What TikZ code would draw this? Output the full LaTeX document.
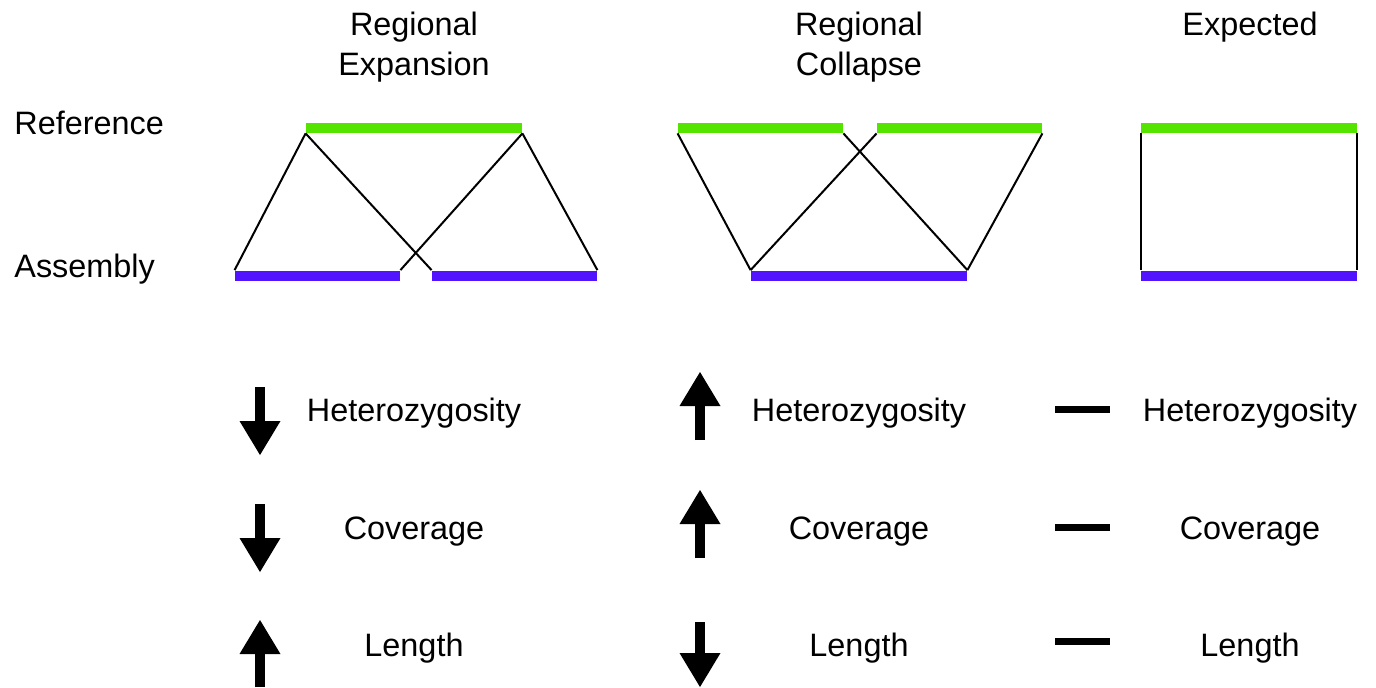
\documentclass[tikz,border=0pt]{standalone}
\usepackage{fontspec}
\setmainfont{Liberation Sans}
\usetikzlibrary{arrows.meta,positioning}
\definecolor{refgreen}{RGB}{84,228,0}
\definecolor{asmblue}{RGB}{82,20,255}

\begin{document}
\begin{tikzpicture}[
    x=0.5pt, y=-0.5pt,
    font=\fontsize{16.2}{19.8}\selectfont,
    refbar/.style={fill=refgreen, inner sep=0pt, minimum height=5pt},
    asmbar/.style={fill=asmblue, inner sep=0pt, minimum height=5pt},
    lk/.style={line width=1pt},
    hd/.style={anchor=north, align=center, inner sep=0pt},
    lbl/.style={anchor=base, inner sep=0pt},
    blk/.style={line width=5pt, -{Triangle[length=17pt, width=20.5pt, line width=0pt]}},
    nochg/.style={line width=3.5pt}
  ]
    \useasboundingbox (0,0) rectangle (1376,687);

    % headers and row labels
    \node[hd] (hdexp) at (414,12) {Regional\\Expansion};
    \node[hd] (hdcol) at (859,12) {Regional\\Collapse};
    \node[hd] (hdexd) at (1250,12) {Expected};
    \node[lbl, anchor=base west] (lblref) at (14,134) {Reference};
    \node[lbl, anchor=base west] (lblasm) at (14,277) {Assembly};

    % regional expansion
    \node[refbar, minimum width=108pt] (ref1) at (414,128) {};
    \node[asmbar, minimum width=82.5pt] (asm1a) at (317.5,275.5) {};
    \node[asmbar, minimum width=82.5pt] (asm1b) at (514.5,275.5) {};
    \draw[lk] (ref1.south west) -- (asm1a.north west);
    \draw[lk] (ref1.south west) -- (asm1b.north west);
    \draw[lk] (ref1.south east) -- (asm1a.north east);
    \draw[lk] (ref1.south east) -- (asm1b.north east);

    % regional collapse
    \node[refbar, minimum width=82.5pt] (ref2a) at (760.5,128) {};
    \node[refbar, minimum width=82.5pt] (ref2b) at (959.5,128) {};
    \node[asmbar, minimum width=108pt] (asm2) at (859,275.5) {};
    \draw[lk] (ref2a.south west) -- (asm2.north west);
    \draw[lk] (ref2a.south east) -- (asm2.north east);
    \draw[lk] (ref2b.south west) -- (asm2.north west);
    \draw[lk] (ref2b.south east) -- (asm2.north east);

    % expected
    \node[refbar, minimum width=108pt] (ref3) at (1249,128) {};
    \node[asmbar, minimum width=108pt] (asm3) at (1249,275.5) {};
    \draw[lk] (ref3.south west) -- (asm3.north west);
    \draw[lk] (ref3.south east) -- (asm3.north east);

    % metrics
    \node[lbl] (het1) at (414,421) {Heterozygosity};
    \node[lbl] (cov1) at (414,539) {Coverage};
    \node[lbl] (len1) at (414,656) {Length};
    \node[lbl] (het2) at (859,421) {Heterozygosity};
    \node[lbl] (cov2) at (859,539) {Coverage};
    \node[lbl] (len2) at (859,656) {Length};
    \node[lbl] (het3) at (1250,421) {Heterozygosity};
    \node[lbl] (cov3) at (1250,539) {Coverage};
    \node[lbl] (len3) at (1250,656) {Length};

    % trend symbols
    \draw[blk] (260,387) -- (260,455);
    \draw[blk] (260,504) -- (260,572);
    \draw[blk] (260,687) -- (260,620);
    \draw[blk] (700,440) -- (700,372);
    \draw[blk] (700,558) -- (700,490);
    \draw[blk] (700,622) -- (700,687);
    \draw[nochg] (1055,409.5) -- (1110,409.5);
    \draw[nochg] (1055,527.5) -- (1110,527.5);
    \draw[nochg] (1055,641.5) -- (1110,641.5);
\end{tikzpicture}
\end{document}
